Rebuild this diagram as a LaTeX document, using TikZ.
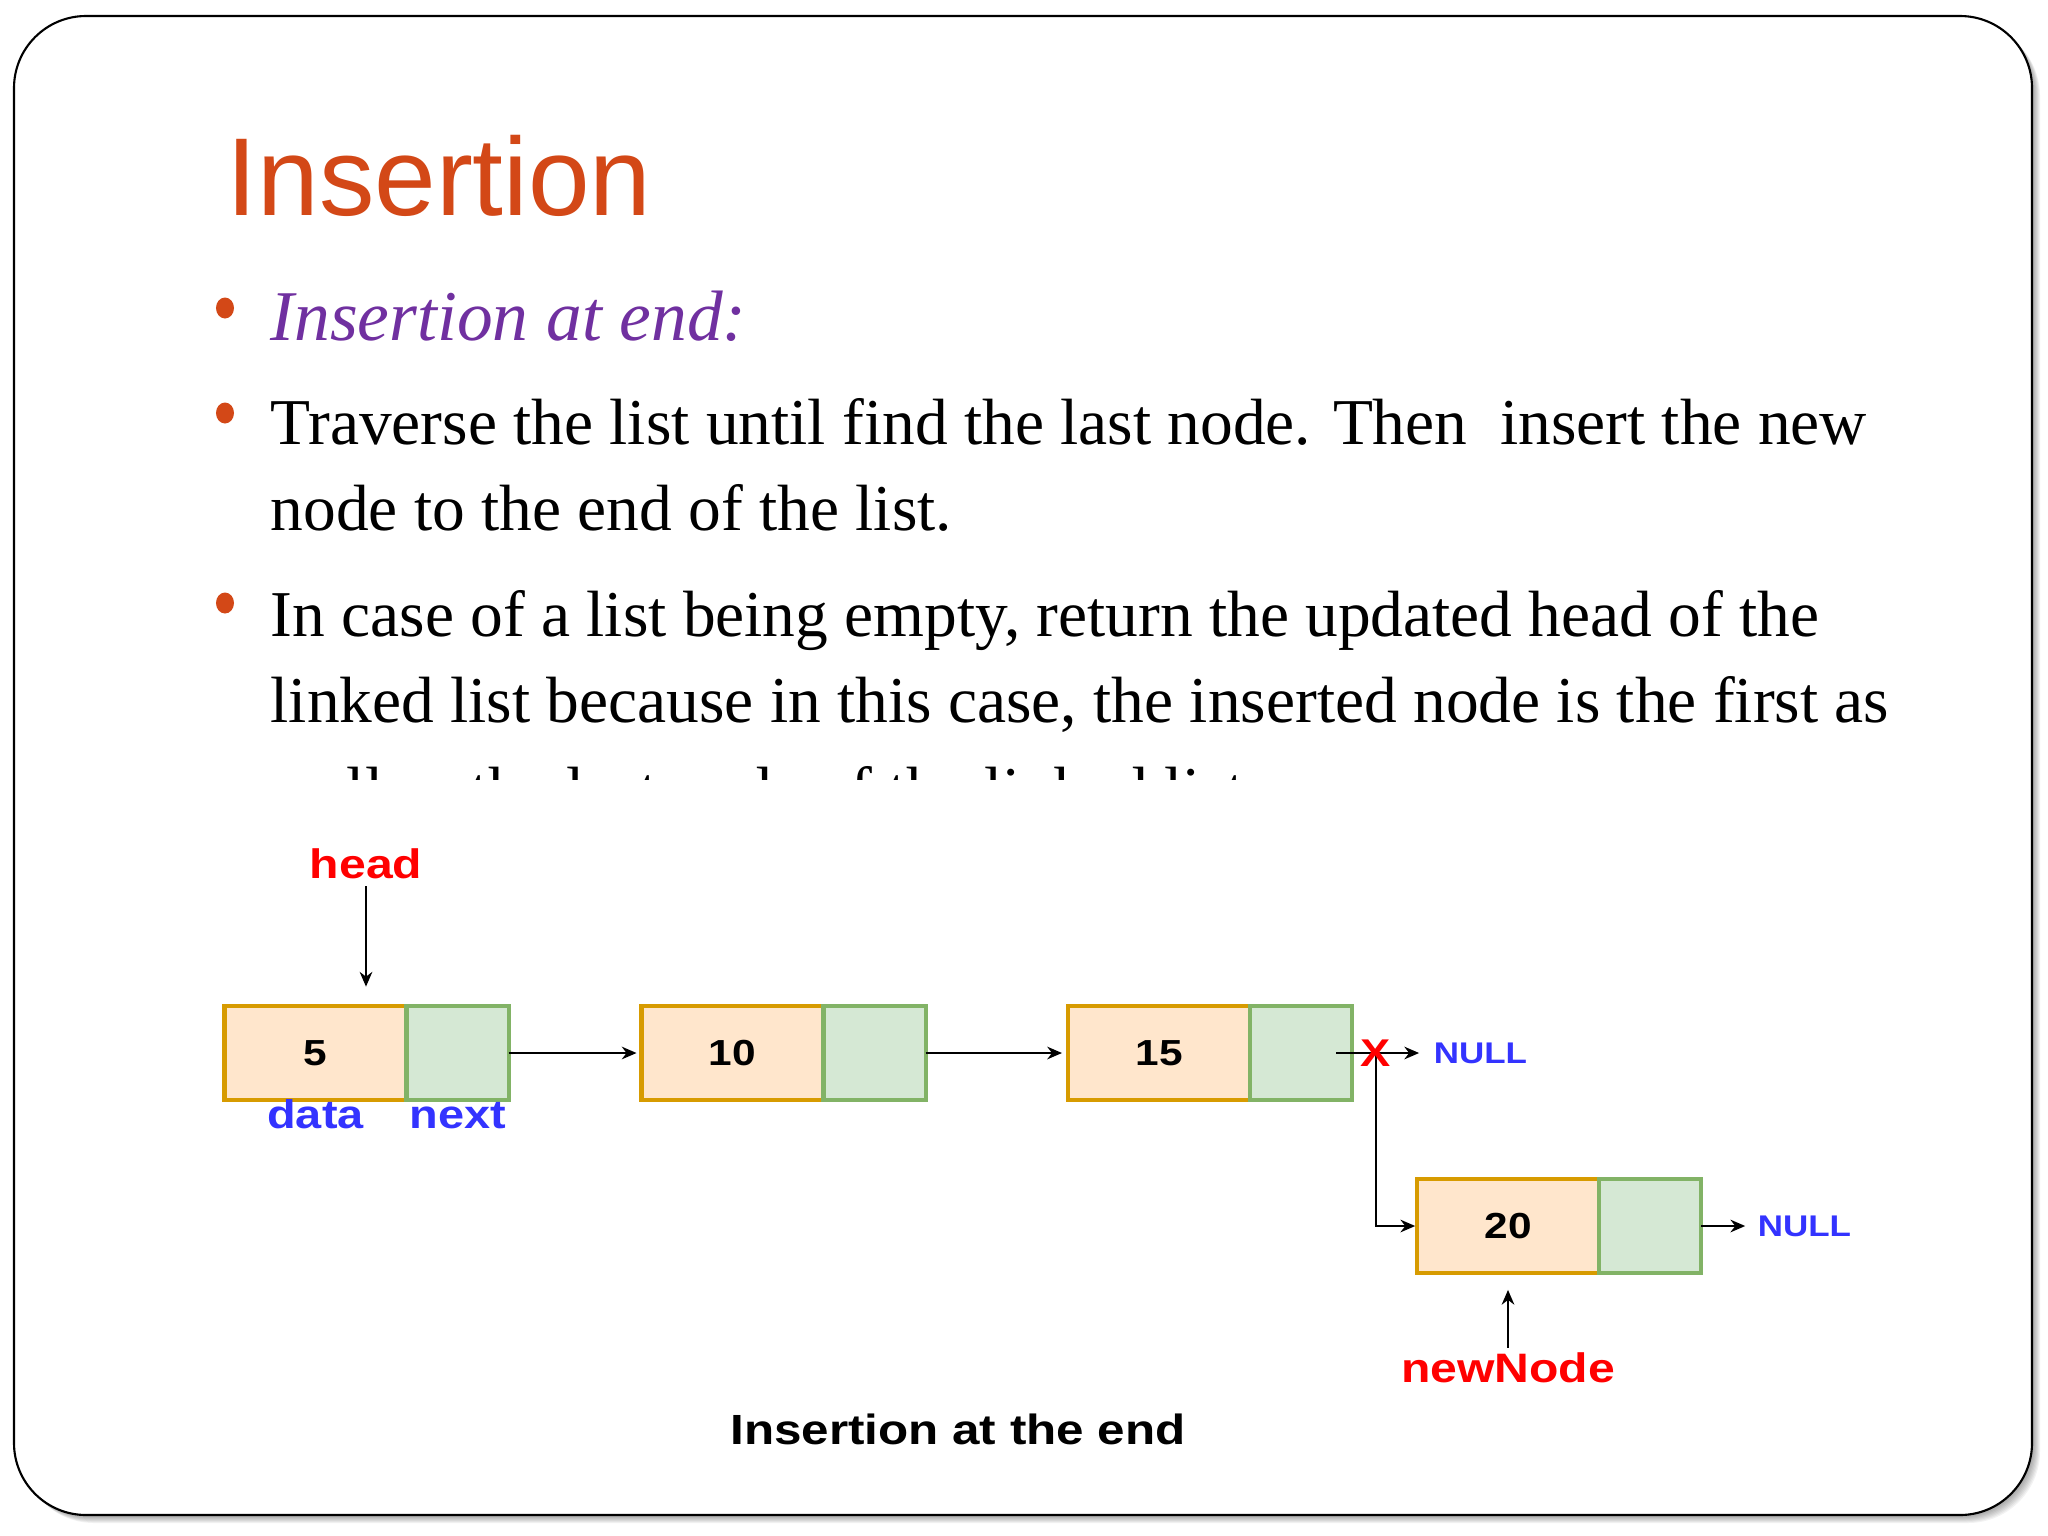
\documentclass[tikz,border=0pt]{standalone}
\usepackage{fontspec}
\setmainfont{Liberation Serif}
\setsansfont{Liberation Sans}
\usepackage{graphicx}
\usetikzlibrary{positioning}
\usetikzlibrary{arrows.meta}

\definecolor{titleorange}{RGB}{211,72,23}
\definecolor{itempurple}{RGB}{112,48,160}
\definecolor{dataline}{RGB}{215,155,0}
\definecolor{datafill}{RGB}{255,230,204}
\definecolor{nextline}{RGB}{130,179,102}
\definecolor{nextfill}{RGB}{213,232,212}
\definecolor{lblblue}{RGB}{51,51,255}
\definecolor{ptrred}{RGB}{255,0,0}

% the list figure is a little wider than its font
\newcommand{\wide}[1]{\scalebox{1.17}[1]{#1}}

\tikzset{
  title/.style={anchor=base west, inner sep=0pt, text=titleorange, font=\sffamily\fontsize{31.5}{36}\selectfont},
  bodytext/.style={anchor=base west, inner sep=0pt, font=\fontsize{18.6}{23}\selectfont},
  datapart/.style={draw=dataline, fill=datafill, line width=1.2pt, minimum width=1.82cm, minimum height=0.94cm, inner sep=0pt, outer sep=0pt, font=\sffamily\bfseries\fontsize{10.3}{12}\selectfont},
  nextpart/.style={draw=nextline, fill=nextfill, line width=1.2pt, minimum width=1.02cm, minimum height=0.94cm, inner sep=0pt, outer sep=0pt},
  ptrlabel/.style={anchor=base, inner sep=0pt, text=ptrred, font=\sffamily\bfseries\fontsize{11.7}{14}\selectfont},
  fieldlabel/.style={anchor=base, inner sep=0pt, text=lblblue, font=\sffamily\bfseries\fontsize{11.4}{14}\selectfont},
  nulllabel/.style={anchor=west, inner sep=0pt, text=lblblue, font=\sffamily\bfseries\fontsize{8.5}{10}\selectfont},
  crossmark/.style={inner sep=0pt, text=ptrred, font=\sffamily\bfseries\fontsize{11}{13}\selectfont},
  caption/.style={anchor=base, inner sep=0pt, font=\sffamily\bfseries\fontsize{12}{14}\selectfont},
  ptr/.style={-{Stealth[length=4.2pt,width=3.6pt]}, line width=0.55pt, black}
}

\begin{document}
\begin{tikzpicture}[x=0.01cm, y=-0.01cm]
\useasboundingbox (0,0) rectangle (2048,1536);

% slide frame with shadow
\foreach \k in {1,...,8}
  \fill[black, opacity=0.05, rounded corners=0.72cm] (14+\k,16+\k) rectangle (2032+\k,1515+\k);
\draw[fill=white, line width=0.6pt, rounded corners=0.72cm] (14,16) rectangle (2032,1515);

% title and bullets
\node[title] (ttl) at (226,215) {Insertion};

\foreach \y in {308,413,603}
  \fill[titleorange] (225,\y) ellipse [x radius=0.09cm, y radius=0.105cm];

\node[bodytext, text=itempurple, font=\itshape\fontsize{20.3}{24}\selectfont] (b1) at (270,340) {Insertion at end:};
\node[bodytext] (b2) at (270,444) {Traverse the list until find the last node. Then\ \ insert the new};
\node[bodytext] (b3) at (270,530) {node to the end of the list.};
\node[bodytext] (b4) at (270,636) {In case of a list being empty, return the updated head of the};
\node[bodytext] (b5) at (270,722) {linked list because in this case, the inserted node is the first as};
\begin{scope}
  \clip (0,0) rectangle (2048,779);
  \node[bodytext] (b6) at (270,812) {well as the last node of the linked list.};
\end{scope}

% the list
\node[datapart] (d1) at (315.5,1053) {\wide{5}};
\node[nextpart, right=0pt of d1] (n1) {};
\node[datapart] (d2) at (732.5,1053) {\wide{10}};
\node[nextpart, right=0pt of d2] (n2) {};
\node[datapart] (d3) at (1159,1053) {\wide{15}};
\node[nextpart, right=0pt of d3] (n3) {};
\node[datapart] (d4) at (1508,1226) {\wide{20}};
\node[nextpart, right=0pt of d4] (n4) {};

\node[ptrlabel] (head) at (366,878) {\wide{head}};
\node[ptrlabel] (newnode) at (1508,1382) {\wide{newNode}};
\node[fieldlabel] (datalbl) at ([yshift=-0.28cm]d1.south) {\wide{data}};
\node[fieldlabel] (nextlbl) at ([yshift=-0.28cm]n1.south) {\wide{next}};
\node[nulllabel, right=0.81cm of n3] (null1) {\wide{NULL}};
\node[nulllabel, right=0.56cm of n4] (null2) {\wide{NULL}};

\coordinate (cut) at (1376,1053);

\draw[ptr, shorten <=2pt, shorten >=5.5pt] (head.south) -- (head.south |- d1.north);
\draw[ptr, shorten >=1.4pt] (n1.east) -- (d2.west);
\draw[ptr, shorten >=1.7pt] (n2.east) -- (d3.west);
\draw[ptr, shorten >=4pt] ([xshift=-0.16cm]n3.east) -- (null1.west);
\draw[ptr, shorten >=0.5pt] (cut) |- (d4.west);
\draw[ptr, shorten >=3.4pt] (n4.east) -- (null2.west);
\draw[ptr, shorten <=1pt, shorten >=4.8pt] (newnode.north) -- (newnode.north |- d4.south);

\node[crossmark] (cross) at (cut) {\wide{X}};

\node[caption] (cap) at (958,1444) {\wide{Insertion at the end}};
\end{tikzpicture}
\end{document}
